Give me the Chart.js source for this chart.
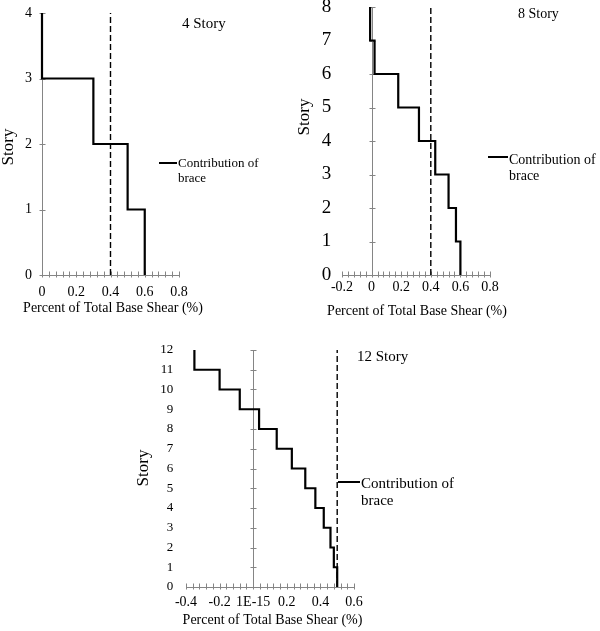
<!DOCTYPE html>
<html>
<head>
<meta charset="utf-8">
<script src="https://cdn.jsdelivr.net/npm/chart.js@4.4.1/dist/chart.umd.min.js"></script>
<style>
  html, body { margin: 0; padding: 0; background: #fff; }
  #page { position: relative; width: 600px; height: 631px; overflow: hidden; }
  #page canvas { position: absolute; }
</style>
</head>
<body>
<div id="page">
  <canvas id="c4" width="300" height="326" style="left:0;top:-6px;width:300px;height:326px"></canvas>
  <canvas id="c8" width="304" height="336" style="left:296px;top:-16px;width:304px;height:336px"></canvas>
  <canvas id="c12" width="340" height="302" style="left:134px;top:329px;width:340px;height:302px"></canvas>
</div>
<script>
// story numbers (top of each storey) and brace share of base shear (%)
const story4 = [4, 3, 2, 1];
const brace4 = [0, 0.3, 0.5, 0.6];
const limit4 = 0.4;
const xTicks4 = ['0', '0.2', '0.4', '0.6', '0.8'];

const story8 = [8, 7, 6, 5, 4, 3, 2, 1];
const brace8 = [-0.01, 0.02, 0.18, 0.32, 0.43, 0.52, 0.57, 0.6];
const limit8 = 0.4;
const xTicks8 = ['-0.2', '0', '0.2', '0.4', '0.6', '0.8'];

const story12 = [12, 11, 10, 9, 8, 7, 6, 5, 4, 3, 2, 1];
const brace12 = [-0.35, -0.2, -0.08, 0.035, 0.14, 0.23, 0.31, 0.37, 0.42, 0.46, 0.48, 0.5];
const limit12 = 0.5;
const xTicks12 = ['-0.4', '-0.2', '1E-15', '0.2', '0.4', '0.6'];

const legendText = ['Contribution of', 'brace'];
const xTitle = 'Percent of Total Base Shear (%)';
const yTitle = 'Story';

const GRAY = '#858585';
const SERIF = "'Liberation Serif', 'Times New Roman', serif";
Chart.defaults.font.family = SERIF;
Chart.defaults.color = '#000';

// axes cross at zero, with small cross ticks (excel style)
const crossAxes = {
    id: 'crossAxes',
    beforeDatasetsDraw(chart) {
        const { ctx, scales: { x, y } } = chart;
        const x0 = Math.round(x.getPixelForValue(0)) + 0.5;
        const y0 = Math.round(y.getPixelForValue(0)) + 0.5;
        ctx.save();
        ctx.strokeStyle = GRAY;
        ctx.lineWidth = 1;
        ctx.beginPath();
        ctx.moveTo(x.left, y0); ctx.lineTo(x.right + 1, y0);
        ctx.moveTo(x0, y.top); ctx.lineTo(x0, y0);
        x.ticks.forEach(t => {
            const px = Math.round(x.getPixelForValue(t.value)) + 0.5;
            ctx.moveTo(px, y0 - 4); ctx.lineTo(px, y0 + 2);
        });
        y.ticks.forEach(t => {
            const py = Math.round(y.getPixelForValue(t.value)) + 0.5;
            ctx.moveTo(x0 - 3, py); ctx.lineTo(x0 + 3, py);
        });
        ctx.stroke();
        ctx.restore();
    }
};

// chart name, legend key and axis titles (page coordinates, shifted by canvas offset)
const notes = {
    id: 'notes',
    afterDraw(chart, args, o) {
        const ctx = chart.ctx;
        const ox = o.ox, oy = o.oy;
        ctx.save();
        ctx.fillStyle = '#000';
        ctx.textBaseline = 'alphabetic';
        ctx.font = o.titleSize + 'px ' + SERIF;
        ctx.fillText(o.title, o.titleX - ox, o.titleY - oy);
        ctx.strokeStyle = '#000';
        ctx.lineWidth = 2;
        ctx.beginPath();
        ctx.moveTo(o.keyX - ox, o.keyY - oy); ctx.lineTo(o.keyX + o.keyW - ox, o.keyY - oy);
        ctx.stroke();
        ctx.font = o.legendSize + 'px ' + SERIF;
        legendText.forEach((line, i) => ctx.fillText(line, o.keyX + o.keyW + 1 - ox, o.legendY + i * o.legendGap - oy));
        ctx.font = '14px ' + SERIF;
        ctx.textAlign = 'center';
        const a = chart.chartArea;
        ctx.fillText(xTitle, (a.left + a.right) / 2 + o.axisDx, o.axisY - oy);
        ctx.font = '17px ' + SERIF;
        ctx.textBaseline = 'middle';
        ctx.translate(o.storyX - ox, o.storyY - oy);
        ctx.rotate(-Math.PI / 2);
        ctx.fillText(yTitle, 0, 0);
        ctx.restore();
    }
};

function storyChart(id, cfg) {
    const pts = cfg.story.map((s, i) => ({ x: cfg.brace[i], y: s }));
    pts.push({ x: cfg.brace[cfg.brace.length - 1], y: 0 });
    const top = cfg.story[0];
    return new Chart(document.getElementById(id), {
        type: 'scatter',
        data: {
            datasets: [
                {
                    label: 'Contribution of brace', data: pts, showLine: true, stepped: 'after',
                    borderColor: '#000', borderWidth: 2.2, pointRadius: 0, clip: false,
                },
                {
                    label: 'limit', data: [{ x: cfg.limit, y: 0 }, { x: cfg.limit, y: top }], showLine: true,
                    borderColor: '#000', borderWidth: 1.4, borderDash: [6, 3], pointRadius: 0, clip: false,
                }
            ]
        },
        options: {
            responsive: false, animation: false, events: [],
            layout: { padding: cfg.pad },
            plugins: { legend: { display: false }, tooltip: { enabled: false }, notes: cfg.notes },
            scales: {
                x: {
                    type: 'linear', min: cfg.xMin, max: cfg.xMax,
                    grid: { display: false, drawTicks: false }, border: { display: false },
                    ticks: {
                        stepSize: 0.04, autoSkip: false, maxRotation: 0, minRotation: 0,
                        padding: cfg.xPad, font: { size: 14 },
                        callback: (v, i) => i % 5 === 0 ? cfg.xLabels[i / 5] : '',
                    },
                    afterFit: s => { s.height = cfg.xH; },
                },
                y: {
                    type: 'linear', min: 0, max: top,
                    grid: { display: false, drawTicks: false }, border: { display: false },
                    ticks: { stepSize: 1, autoSkip: false, padding: cfg.yPad, font: { size: cfg.ySize } },
                    afterFit: s => { s.width = cfg.yW; },
                }
            }
        },
        plugins: [crossAxes, notes]
    });
}

storyChart('c4', {
    story: story4, brace: brace4, limit: limit4, xLabels: xTicks4, xMin: 0, xMax: 0.8,
    pad: { left: 0, top: 19, right: 121, bottom: 0 }, yW: 42, xH: 45,
    xPad: 8.6, yPad: 10, ySize: 14,
    notes: { ox: 0, oy: -6, title: '4 Story', titleSize: 15, titleX: 182, titleY: 28,
             keyX: 159, keyY: 163, keyW: 18, legendSize: 13, legendY: 167, legendGap: 14.5,
             axisDx: 2.5, axisY: 312, storyX: 9, storyY: 147 }
});

storyChart('c8', {
    story: story8, brace: brace8, limit: limit8, xLabels: xTicks8, xMin: -0.2, xMax: 0.8,
    pad: { left: 0, top: 23, right: 110, bottom: 0 }, yW: 46, xH: 45,
    xPad: 3.6, yPad: 10.7, ySize: 19,
    notes: { ox: 296, oy: -16, title: '8 Story', titleSize: 14, titleX: 518, titleY: 18,
             keyX: 488, keyY: 157, keyW: 20, legendSize: 14, legendY: 164, legendGap: 16,
             axisDx: 1, axisY: 315, storyX: 305, storyY: 117 }
});

storyChart('c12', {
    story: story12, brace: brace12, limit: limit12, xLabels: xTicks12, xMin: -0.4, xMax: 0.6,
    pad: { left: 0, top: 21, right: 120, bottom: 0 }, yW: 52, xH: 44,
    xPad: 7.4, yPad: 12.7, ySize: 13,
    notes: { ox: 134, oy: 329, title: '12 Story', titleSize: 15, titleX: 357, titleY: 361,
             keyX: 338, keyY: 482, keyW: 22, legendSize: 15, legendY: 488, legendGap: 17,
             axisDx: 2.5, axisY: 624, storyX: 144, storyY: 468 }
});
</script>
</body>
</html>
